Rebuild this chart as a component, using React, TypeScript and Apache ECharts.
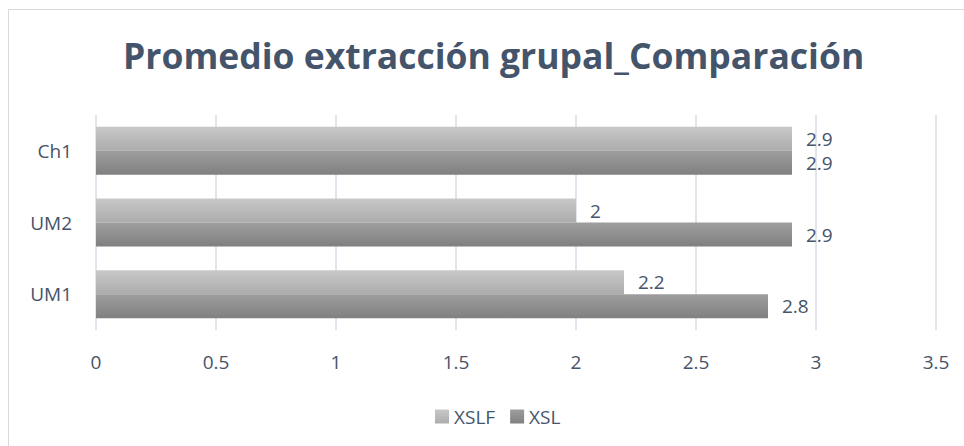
import React, { useEffect, useRef } from "react";
import * as echarts from "echarts";

const categories = ["UM1", "UM2", "Ch1"];
const xslf = [2.2, 2, 2.9];
const xsl = [2.8, 2.9, 2.9];
const seriesNames = ["XSLF", "XSL"];
const titleText = "Promedio extracción grupal_Comparación";

export default function App() {
  const ref = useRef<HTMLDivElement>(null);
  useEffect(() => {
    if (!ref.current) return;
    const chart = echarts.init(ref.current, null, { renderer: "svg" });
    const textColor = "#44546A";
    const font = "Open Sans";
    const grad = (a: string, b: string) =>
      new echarts.graphic.LinearGradient(0, 0, 0, 1, [
        { offset: 0, color: a },
        { offset: 1, color: b },
      ]);
    const labelCommon = {
      show: true,
      position: "right",
      distance: 14,
      fontFamily: font,
      fontSize: 19,
      color: textColor,
    };
    chart.setOption({
      animation: false,
      backgroundColor: "#ffffff",
      title: {
        text: titleText,
        left: 118,
        top: 32,
        textStyle: {
          fontFamily: font,
          fontWeight: "bold",
          fontSize: 35.5,
          color: textColor,
        },
      },
      graphic: [
        {
          type: "rect",
          shape: { x: 8.5, y: 9.5, width: 1000, height: 500 },
          style: { fill: "none", stroke: "#d9d9d9", lineWidth: 1 },
          silent: true,
        },
      ],
      legend: {
        data: seriesNames,
        top: 402,
        left: 430,
        itemWidth: 14,
        itemHeight: 14,
        itemGap: 15,
        icon: "rect",
        textStyle: { fontFamily: font, fontSize: 19, color: textColor },
      },
      grid: { left: 96, right: 28, top: 115, bottom: 116 },
      xAxis: {
        type: "value",
        min: 0,
        max: 3.5,
        interval: 0.5,
        axisLine: { show: false },
        axisTick: { show: false },
        splitLine: { lineStyle: { color: "#d9dde6", width: 1.5 } },
        axisLabel: {
          fontFamily: font,
          fontSize: 19,
          color: textColor,
          margin: 22,
        },
      },
      yAxis: {
        type: "category",
        data: categories,
        axisLine: { show: false },
        axisTick: { show: false },
        axisLabel: {
          fontFamily: font,
          fontSize: 19,
          color: textColor,
          margin: 24,
        },
      },
      series: [
        {
          name: seriesNames[0],
          type: "bar",
          data: xslf,
          barWidth: 24,
          barGap: "0%",
          itemStyle: { color: grad("#c8c8c8", "#acacac") },
          label: labelCommon,
        },
        {
          name: seriesNames[1],
          type: "bar",
          data: xsl,
          barWidth: 24,
          barGap: "0%",
          itemStyle: { color: grad("#9e9e9e", "#808080") },
          label: labelCommon,
        },
      ],
    });
    return () => chart.dispose();
  }, []);
  return (
    <div
      ref={ref}
      style={{ position: "fixed", left: 0, top: 0, width: 964, height: 446 }}
    />
  );
}
